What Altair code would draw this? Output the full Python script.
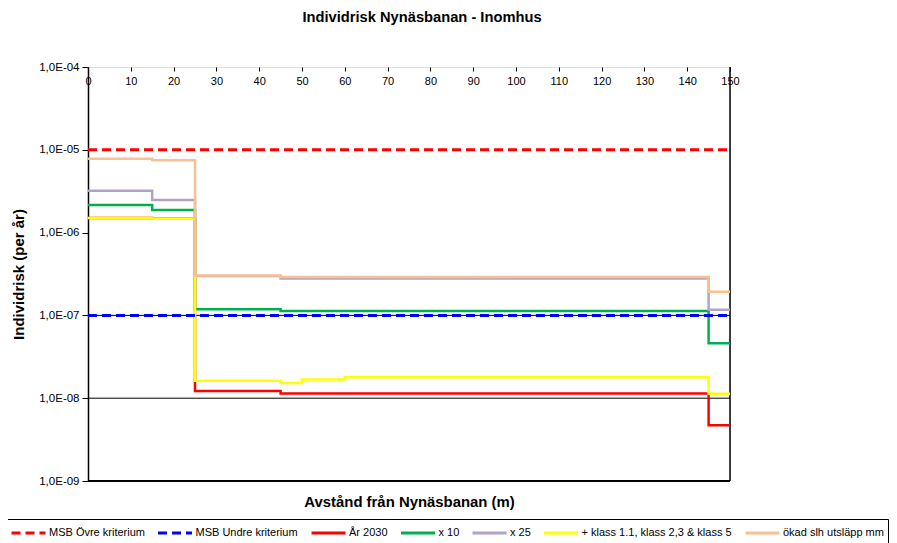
import altair as alt
import pandas as pd

# ---- data ----
x_points = [0, 15, 25, 45, 50, 60, 145, 150]
series_names = [
    "MSB Övre kriterium",
    "MSB Undre kriterium",
    "År 2030",
    "x 10",
    "x 25",
    "+ klass 1.1, klass 2,3 & klass 5",
    "ökad slh utsläpp mm",
]
colors = ["#FF0000", "#0000FF", "#FF0000", "#00B050", "#B3A2C7", "#FFFF00", "#FAC090"]
dashes = [[9, 5], [9, 5], [1, 0], [1, 0], [1, 0], [1, 0], [1, 0]]

msb_ovre = [1e-5] * 8
msb_undre = [1e-7] * 8
ar_2030 = [1.50e-6, 1.47e-6, 1.22e-8, 1.14e-8, 1.14e-8, 1.14e-8, 4.7e-9, 4.7e-9]
x10 = [2.15e-6, 1.88e-6, 1.19e-7, 1.13e-7, 1.13e-7, 1.13e-7, 4.6e-8, 4.6e-8]
x25 = [3.2e-6, 2.48e-6, 3.0e-7, 2.79e-7, 2.79e-7, 2.79e-7, 1.17e-7, 1.17e-7]
klass = [1.50e-6, 1.47e-6, 1.62e-8, 1.53e-8, 1.68e-8, 1.79e-8, 1.13e-8, 1.13e-8]
okad = [7.8e-6, 7.5e-6, 3.03e-7, 2.9e-7, 2.9e-7, 2.9e-7, 1.93e-7, 1.93e-7]

y_ticks = [1e-4, 1e-5, 1e-6, 1e-7, 1e-8, 1e-9]
x_ticks = list(range(0, 151, 10))
grid_values = [1e-7, 1e-8]

all_values = [msb_ovre, msb_undre, ar_2030, x10, x25, klass, okad]
rows = []
for order, (name, vals) in enumerate(zip(series_names, all_values)):
    for x, v in zip(x_points, vals):
        rows.append({"serie": name, "x": x, "y": v, "ord": order})
df = pd.DataFrame(rows)

FONT = "Liberation Sans"
YSCALE = alt.Scale(type="log", domain=[1e-9, 1e-4], nice=False)

x_enc = alt.X(
    "x:Q",
    scale=alt.Scale(domain=[0, 150], nice=False, zero=False),
    axis=alt.Axis(
        values=x_ticks, orient="bottom", offset=-414, domain=False, grid=False,
        tickSize=4, tickColor="#000", labelPadding=4, labelFlush=False,
        labelFont=FONT, labelFontSize=11, labelColor="#000",
        title="Avstånd från Nynäsbanan (m)", titleFont=FONT, titleFontSize=14.9,
        titleFontWeight="bold", titleY=435, titleBaseline="middle", titleColor="#000",
    ),
)
y_enc = alt.Y(
    "y:Q",
    scale=YSCALE,
    axis=alt.Axis(
        values=y_ticks, grid=False, domainColor="#000", domainWidth=1.5,
        tickColor="#000", tickSize=6, labelPadding=3,
        labelExpr="'1,0E-0' + round(-log(datum.value)/LN10)",
        labelFont=FONT, labelFontSize=11.5, labelColor="#000",
        title="Individrisk (per år)", titleFont=FONT, titleFontSize=15,
        titleFontWeight="bold", titlePadding=12, titleColor="#000",
    ),
)
legend = alt.Legend(
    title=None, orient="none", direction="horizontal", columns=7,
    legendX=-82, legendY=452, symbolType="M-2,0H2", symbolSize=289,
    symbolOffset=8.5, symbolStrokeWidth=3, labelFont=FONT, labelFontSize=11,
    labelColor="#000", labelOffset=10.5, columnPadding=6.5, strokeColor="#000",
    padding=4, labelLimit=300,
)
color_enc = alt.Color(
    "serie:N",
    scale=alt.Scale(domain=series_names, range=colors),
    legend=legend,
)
dash_enc = alt.StrokeDash(
    "serie:N",
    scale=alt.Scale(domain=series_names, range=dashes),
    legend=legend,
)

base = alt.Chart(df)

grid = alt.Chart(pd.DataFrame({"g": grid_values})).mark_rule(color="#000", strokeWidth=1).encode(
    y=alt.Y("g:Q", scale=YSCALE))
bottom = alt.Chart(pd.DataFrame({"g": [1e-9]})).mark_rule(color="#000", strokeWidth=2).encode(y="g:Q")
right = alt.Chart(pd.DataFrame({"xr": [150]})).mark_rule(color="#000", strokeWidth=1.5).encode(x="xr:Q")

solid = base.transform_filter(alt.datum.ord >= 2).mark_line(
    interpolate="step-after", strokeWidth=2.5
).encode(x=x_enc, y=y_enc, color=color_enc, strokeDash=dash_enc, order="ord:O", detail="ord:O")

dashed = base.transform_filter(alt.datum.ord < 2).mark_line(
    interpolate="step-after", strokeWidth=3
).encode(x=x_enc, y=y_enc, color=color_enc, strokeDash=dash_enc, detail="ord:O")

chart = alt.layer(grid, bottom, right, solid, dashed).properties(
    width=642, height=414,
    autosize=alt.AutoSizeParams(type="none"),
    padding={"left": 80, "top": 59, "right": 159, "bottom": 62},
    title=alt.TitleParams(
        "Individrisk Nynäsbanan - Inomhus", font=FONT, fontSize=14.7, fontWeight="bold",
        anchor="middle", frame="group", dx=13, offset=36, color="#000",
    ),
).configure_view(stroke=None).configure(background="white")

chart.save("out.html", embed_options={"renderer": "svg", "actions": False})
